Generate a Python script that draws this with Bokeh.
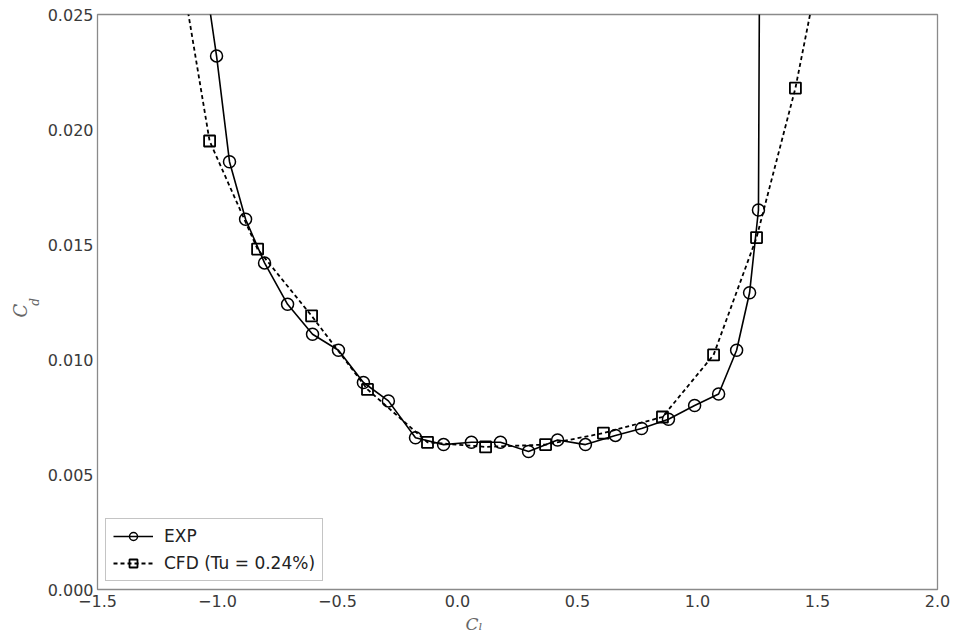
from bokeh.plotting import figure
from bokeh.models import FixedTicker, Legend, LegendItem, Range1d, Title
from bokeh.embed import file_html
from bokeh.resources import INLINE

# ---- data ----
cl_exp = [-1.043, -1.004, -0.950, -0.883, -0.804, -0.708, -0.604, -0.496, -0.392, -0.288,
          -0.175, -0.058, 0.058, 0.179, 0.296, 0.417, 0.533, 0.658, 0.767, 0.879,
          0.988, 1.088, 1.163, 1.217, 1.254, 1.258]
cd_exp = [0.0260, 0.0232, 0.0186, 0.0161, 0.0142, 0.0124, 0.0111, 0.0104, 0.0090, 0.0082,
          0.0066, 0.0063, 0.0064, 0.0064, 0.0060, 0.0065, 0.0063, 0.0067, 0.0070, 0.0074,
          0.0080, 0.0085, 0.0104, 0.0129, 0.0165, 0.0260]

cl_cfd = [-1.137, -1.033, -0.833, -0.608, -0.375, -0.125, 0.117, 0.367, 0.608, 0.854,
          1.067, 1.246, 1.408, 1.488]
cd_cfd = [0.0260, 0.0195, 0.0148, 0.0119, 0.0087, 0.0064, 0.0062, 0.0063, 0.0068, 0.0075,
          0.0102, 0.0153, 0.0218, 0.0260]

x_ticks = [-1.5, -1.0, -0.5, 0.0, 0.5, 1.0, 1.5, 2.0]
x_tick_labels = ["\u22121.5", "\u22121.0", "\u22120.5", "0.0", "0.5", "1.0", "1.5", "2.0"]
y_ticks = [0.0, 0.005, 0.010, 0.015, 0.020, 0.025]
y_tick_labels = ["0.000", "0.005", "0.010", "0.015", "0.020", "0.025"]

series_labels = ["EXP", "CFD (Tu = 0.24%)"]

FONT = "DejaVu Sans"
SERIF = "DejaVu Serif"
LABEL_COLOR = "#666666"

p = figure(frame_width=840, frame_height=575,
           x_range=Range1d(-1.5, 2.0), y_range=Range1d(0.0, 0.025),
           output_backend="svg", toolbar_location=None,
           min_border_left=97, min_border_right=19, min_border_top=14, min_border_bottom=40,
           background_fill_color="white", border_fill_color="white")

p.grid.visible = False
p.outline_line_color = "#8a8a8a"
p.outline_line_width = 1.3

for ax in (p.xaxis[0], p.yaxis[0]):
    ax.axis_line_color = None
    ax.major_tick_line_color = None
    ax.minor_tick_line_color = None
    ax.major_tick_out = 0
    ax.major_tick_in = 0
    ax.minor_tick_out = 0
    ax.major_label_text_font = FONT
    ax.major_label_text_font_size = "16px"
    ax.major_label_text_color = "#3a3a3a"

p.xaxis.ticker = FixedTicker(ticks=x_ticks)
p.xaxis.major_label_overrides = {t: l for t, l in zip(x_ticks, x_tick_labels)}
p.xaxis.major_label_standoff = 5
p.yaxis.ticker = FixedTicker(ticks=y_ticks)
p.yaxis.major_label_overrides = {t: l for t, l in zip(y_ticks, y_tick_labels)}
p.yaxis.major_label_standoff = 4

# y label: subscript "d" as the axis label, the "C" as a title further out
p.yaxis.axis_label = "d"
p.yaxis.axis_label_text_font = SERIF
p.yaxis.axis_label_text_font_style = "italic"
p.yaxis.axis_label_text_font_size = "12px"
p.yaxis.axis_label_text_color = LABEL_COLOR
p.yaxis.axis_label_standoff = 3

l1 = p.line(cl_exp, cd_exp, line_color="black", line_width=1.6)
s1 = p.scatter(cl_exp, cd_exp, marker="circle", size=12, fill_alpha=0,
               line_color="black", line_width=1.5)
l2 = p.line(cl_cfd, cd_cfd, line_color="black", line_width=1.8, line_dash="4 3")
s2 = p.scatter(cl_cfd, cd_cfd, marker="square", size=11, fill_alpha=0,
               line_color="black", line_width=1.8)

legend = Legend(items=[LegendItem(label=series_labels[0], renderers=[l1, s1]),
                       LegendItem(label=series_labels[1], renderers=[l2, s2])],
                location=(8, 8), padding=7, spacing=7, glyph_width=40, glyph_height=20,
                label_height=20, label_standoff=11,
                label_text_font=FONT, label_text_font_size="17px", label_text_color="#222222",
                border_line_color="#8a8a8a", border_line_width=1.2,
                background_fill_color="white", background_fill_alpha=1.0)
p.add_layout(legend, "center")

p.add_layout(Title(text="C", align="left", offset=272, vertical_align="bottom", standoff=-12,
                   text_font=SERIF, text_font_style="italic", text_font_size="18px",
                   text_color=LABEL_COLOR), "left")
p.add_layout(Title(text="C\u2097", align="left", offset=368, vertical_align="top", standoff=8,
                   text_font=SERIF, text_font_style="italic", text_font_size="17px",
                   text_color=LABEL_COLOR), "below")

open("out.html", "w").write(file_html(p, INLINE))
